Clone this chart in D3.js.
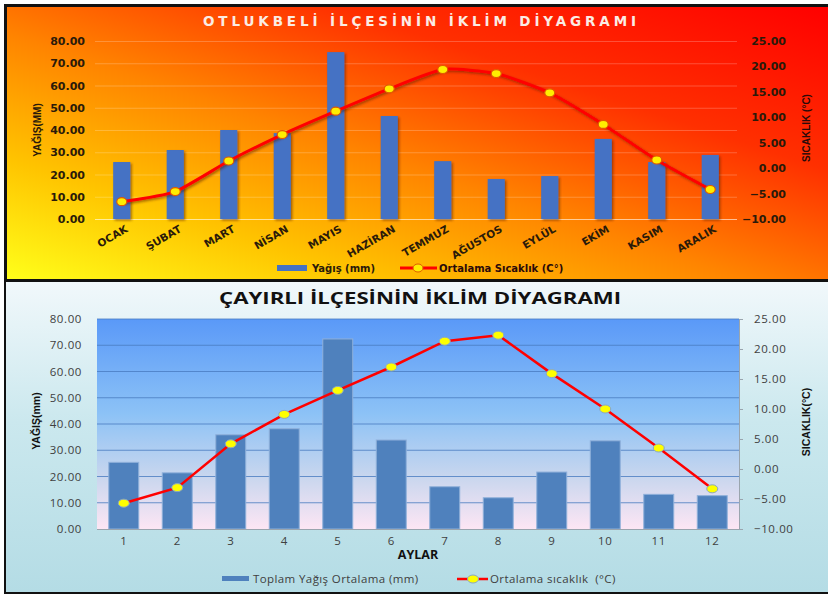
<!DOCTYPE html>
<html>
<head>
<meta charset="utf-8">
<script src="https://cdn.jsdelivr.net/npm/d3@7"></script>
<style>
body { margin: 0; background: #fff; }
svg { display: block; }
</style>
</head>
<body>
<div id="chart"></div>
<script>
// iki ilçe, iki diyagram

var aylarUst = ["OCAK", "ŞUBAT", "MART", "NİSAN", "MAYIS", "HAZİRAN", "TEMMUZ", "AĞUSTOS", "EYLÜL", "EKİM", "KASIM", "ARALIK"];
var yagisUst = [25.6, 31.0, 40.0, 38.6, 75.0, 46.3, 26.0, 18.0, 19.3, 36.0, 25.6, 28.8];
var sicaklikUst = [-6.6, -4.6, 1.4, 6.6, 11.2, 15.6, 19.4, 18.6, 14.8, 8.6, 1.6, -4.2];

var aylarAlt = ["1", "2", "3", "4", "5", "6", "7", "8", "9", "10", "11", "12"];
var yagisAlt = [25.4, 21.4, 35.9, 38.2, 72.4, 33.9, 16.1, 11.9, 21.7, 33.6, 13.2, 12.7];
var sicaklikAlt = [-5.7, -3.1, 4.2, 9.1, 13.1, 17.0, 21.3, 22.3, 15.9, 10.0, 3.5, -3.3];

var yagisTicks = [0, 10, 20, 30, 40, 50, 60, 70, 80];
var sicaklikTicks = [-10, -5, 0, 5, 10, 15, 20, 25];

var width = 828,
    height = 594;

var svg = d3.select("#chart")
    .append("svg")
    .attr("width", width)
    .attr("height", height);

var defs = svg.append("defs");

var g1 = defs.append("linearGradient").attr("id", "ates")
    .attr("x1", "0").attr("y1", "1").attr("x2", "1").attr("y2", "0");
g1.append("stop").attr("offset", "0").attr("stop-color", "#ffff1a");
g1.append("stop").attr("offset", "0.22").attr("stop-color", "#ffc400");
g1.append("stop").attr("offset", "0.45").attr("stop-color", "#ff8400");
g1.append("stop").attr("offset", "0.7").attr("stop-color", "#ff3000");
g1.append("stop").attr("offset", "1").attr("stop-color", "#ff0000");

var g2 = defs.append("linearGradient").attr("id", "zemin")
    .attr("x1", "0").attr("y1", "0").attr("x2", "0").attr("y2", "1");
g2.append("stop").attr("offset", "0").attr("stop-color", "#f1f8fb");
g2.append("stop").attr("offset", "0.45").attr("stop-color", "#cbe8ee");
g2.append("stop").attr("offset", "1").attr("stop-color", "#b4dce5");

var g3 = defs.append("linearGradient").attr("id", "alan")
    .attr("x1", "0").attr("y1", "0").attr("x2", "0").attr("y2", "1");
g3.append("stop").attr("offset", "0").attr("stop-color", "#5a99f8");
g3.append("stop").attr("offset", "0.45").attr("stop-color", "#8cc2f6");
g3.append("stop").attr("offset", "0.75").attr("stop-color", "#c8d6ee");
g3.append("stop").attr("offset", "1").attr("stop-color", "#fde6f4");

var shadow = defs.append("filter").attr("id", "golge")
    .attr("x", "-20%").attr("y", "-20%").attr("width", "140%").attr("height", "140%");
shadow.append("feDropShadow").attr("dx", 1.5).attr("dy", 1.5)
    .attr("stdDeviation", 1.2).attr("flood-color", "#5a2000").attr("flood-opacity", 0.55);

// çerçeveler
svg.append("rect").attr("x", 4).attr("y", 4).attr("width", 824).attr("height", 590).attr("fill", "#111");
svg.append("rect").attr("x", 7).attr("y", 7).attr("width", 821).attr("height", 272).attr("fill", "url(#ates)");
svg.append("rect").attr("x", 6).attr("y", 282).attr("width", 822).attr("height", 310).attr("fill", "url(#zemin)");

// ---------- üst diyagram ----------
var x1 = d3.scaleBand().domain(aylarUst).range([95, 737]).paddingInner(0.68).paddingOuter(0.34);
var yL1 = d3.scaleLinear().domain([0, 80]).range([219, 41]);
var yR1 = d3.scaleLinear().domain([-10, 25]).range([219, 41]);

var ust = svg.append("g");

ust.append("g").selectAll("line").data(yagisTicks).join("line")
    .attr("x1", 95).attr("x2", 737)
    .attr("y1", function(d) { return yL1(d) + 0.5; })
    .attr("y2", function(d) { return yL1(d) + 0.5; })
    .attr("stroke", "#fff")
    .attr("stroke-opacity", function(d) { return d == 0 ? 0.6 : 0.22; });

ust.append("g").selectAll("rect").data(yagisUst).join("rect")
    .attr("x", function(d, i) { return x1(aylarUst[i]); })
    .attr("y", function(d) { return yL1(d); })
    .attr("width", x1.bandwidth())
    .attr("height", function(d) { return yL1(0) - yL1(d); })
    .attr("fill", "#4472c4")
    .attr("filter", "url(#golge)");

var line1 = d3.line()
    .x(function(d, i) { return x1(aylarUst[i]) + x1.bandwidth() / 2; })
    .y(function(d) { return yR1(d); })
    .curve(d3.curveCardinal.tension(0.45));

ust.append("path")
    .attr("d", line1(sicaklikUst))
    .attr("fill", "none")
    .attr("stroke", "#ff0000")
    .attr("stroke-width", 3)
    .attr("filter", "url(#golge)");

ust.append("g").selectAll("ellipse").data(sicaklikUst).join("ellipse")
    .attr("cx", function(d, i) { return x1(aylarUst[i]) + x1.bandwidth() / 2; })
    .attr("cy", function(d) { return yR1(d); })
    .attr("rx", 5).attr("ry", 4)
    .attr("fill", "#ffee00")
    .attr("stroke", "#e05a00")
    .attr("stroke-width", 1.2);

var axL1 = ust.append("g").attr("transform", "translate(95,0)")
    .call(d3.axisLeft(yL1).tickValues(yagisTicks).tickFormat(d3.format(".2f")).tickSize(0).tickPadding(10));
var axR1 = ust.append("g").attr("transform", "translate(737,0)")
    .call(d3.axisRight(yR1).tickValues(sicaklikTicks).tickFormat(d3.format(".2f")).tickSize(0));
axR1.selectAll("text").attr("text-anchor", "end").attr("x", 49);
var axB1 = ust.append("g").attr("transform", "translate(0,219)")
    .call(d3.axisBottom(x1).tickSize(0));
axB1.selectAll("text")
    .attr("text-anchor", "end")
    .attr("transform", "translate(5,9) rotate(-30)")
    .attr("dy", "0.35em")
    .attr("y", 0);

[axL1, axR1, axB1].forEach(function(a) {
    a.select(".domain").remove();
    a.selectAll("text")
        .attr("fill", "#2a1a0a")
        .attr("font-family", "DejaVu Sans")
        .attr("font-weight", "bold")
        .attr("font-size", 11);
});
axB1.selectAll("text").attr("font-size", 10.5);

ust.append("text")
    .attr("x", 203).attr("y", 26)
    .attr("textLength", 433).attr("lengthAdjust", "spacing")
    .attr("font-family", "DejaVu Sans").attr("font-weight", "bold")
    .attr("font-size", 13.5)
    .attr("fill", "#fbece4")
    .text("OTLUKBELİ İLÇESİNİN İKLİM DİYAGRAMI");

ust.append("text")
    .attr("transform", "translate(41,130) rotate(-90)")
    .attr("text-anchor", "middle")
    .attr("font-family", "Liberation Sans Narrow, Liberation Sans").attr("font-weight", "bold")
    .attr("font-size", 10).attr("fill", "#2a1a0a")
    .text("YAĞIŞ(MM)");

ust.append("text")
    .attr("transform", "translate(810,128) rotate(-90)")
    .attr("text-anchor", "middle")
    .attr("font-family", "Liberation Sans Narrow, Liberation Sans").attr("font-weight", "bold")
    .attr("font-size", 10).attr("fill", "#2a0a0a")
    .text("SICAKLIK (°C)");

// lejant
ust.append("rect").attr("x", 277).attr("y", 265).attr("width", 30).attr("height", 6).attr("fill", "#4472c4");
ust.append("text").attr("x", 312).attr("y", 272)
    .attr("font-family", "DejaVu Sans").attr("font-weight", "bold").attr("font-size", 10)
    .attr("fill", "#2a1a0a").text("Yağış (mm)");
ust.append("line").attr("x1", 400).attr("x2", 437).attr("y1", 268).attr("y2", 268)
    .attr("stroke", "#ff0000").attr("stroke-width", 3);
ust.append("ellipse").attr("cx", 418).attr("cy", 268).attr("rx", 5).attr("ry", 4)
    .attr("fill", "#ffee00").attr("stroke", "#e05a00");
ust.append("text").attr("x", 439).attr("y", 272)
    .attr("font-family", "DejaVu Sans").attr("font-weight", "bold").attr("font-size", 10)
    .attr("fill", "#2a0a0a").text("Ortalama Sıcaklık (C°)");

// ---------- alt diyagram ----------
var x2 = d3.scaleBand().domain(aylarAlt).range([97, 739]).paddingInner(0.44).paddingOuter(0.22);
var yL2 = d3.scaleLinear().domain([0, 80]).range([529, 319]);
var yR2 = d3.scaleLinear().domain([-10, 25]).range([529, 319]);

var alt = svg.append("g");

alt.append("rect").attr("x", 97).attr("y", 319).attr("width", 642).attr("height", 210)
    .attr("fill", "url(#alan)");

alt.append("g").selectAll("line").data(yagisTicks.slice(1)).join("line")
    .attr("x1", 97).attr("x2", 739)
    .attr("y1", function(d) { return yL2(d); })
    .attr("y2", function(d) { return yL2(d); })
    .attr("stroke", "#4a7cc0").attr("stroke-width", 1.2).attr("stroke-opacity", 0.8);

alt.append("g").selectAll("rect").data(yagisAlt).join("rect")
    .attr("x", function(d, i) { return x2(aylarAlt[i]); })
    .attr("y", function(d) { return yL2(d); })
    .attr("width", x2.bandwidth())
    .attr("height", function(d) { return yL2(0) - yL2(d); })
    .attr("fill", "#4f81bd")
    .attr("stroke", "#8fb0da").attr("stroke-width", 1);

var line2 = d3.line()
    .x(function(d, i) { return x2(aylarAlt[i]) + x2.bandwidth() / 2; })
    .y(function(d) { return yR2(d); });

alt.append("path")
    .attr("d", line2(sicaklikAlt))
    .attr("fill", "none")
    .attr("stroke", "#ff0000")
    .attr("stroke-width", 2.5);

alt.append("g").selectAll("ellipse").data(sicaklikAlt).join("ellipse")
    .attr("cx", function(d, i) { return x2(aylarAlt[i]) + x2.bandwidth() / 2; })
    .attr("cy", function(d) { return yR2(d); })
    .attr("rx", 5.5).attr("ry", 4)
    .attr("fill", "#ffff00")
    .attr("stroke", "#8aa6c4").attr("stroke-width", 1);

var axL2 = alt.append("g").attr("transform", "translate(97,0)")
    .call(d3.axisLeft(yL2).tickValues(yagisTicks).tickFormat(d3.format(".2f")).tickSize(0).tickPadding(15));
axL2.select(".domain").remove();
var axR2 = alt.append("g").attr("transform", "translate(739,0)")
    .call(d3.axisRight(yR2).tickValues(sicaklikTicks).tickFormat(d3.format(".2f")).tickSize(4).tickSizeOuter(0).tickPadding(11));
var axB2 = alt.append("g").attr("transform", "translate(0,529)")
    .call(d3.axisBottom(x2).tickSize(0).tickPadding(8));
axB2.select(".domain").attr("d", "M97,0.5H739").attr("stroke", "#9aa5ae");
axR2.selectAll(".domain, line").attr("stroke", "#9aa5ae");

[axL2, axR2, axB2].forEach(function(a) {
    a.selectAll("text")
        .attr("fill", "#404040")
        .attr("font-family", "Open Sans")
        .attr("font-size", 11.5)
        .attr("letter-spacing", 0.6);
});

alt.append("text")
    .attr("x", 219).attr("y", 304)
    .attr("textLength", 402).attr("lengthAdjust", "spacingAndGlyphs")
    .attr("font-family", "Open Sans").attr("font-weight", "bold")
    .attr("font-size", 16.5).attr("fill", "#111")
    .text("ÇAYIRLI İLÇESİNİN İKLİM DİYAGRAMI");

alt.append("text")
    .attr("x", 418).attr("y", 559)
    .attr("text-anchor", "middle")
    .attr("font-family", "Open Sans").attr("font-weight", "bold")
    .attr("font-size", 12.5).attr("fill", "#111")
    .text("AYLAR");

alt.append("text")
    .attr("transform", "translate(40,421) rotate(-90)")
    .attr("text-anchor", "middle")
    .attr("font-family", "Liberation Sans Narrow, Liberation Sans").attr("font-weight", "bold")
    .attr("font-size", 10.5).attr("fill", "#111")
    .text("YAĞIŞ(mm)");

alt.append("text")
    .attr("transform", "translate(810,422) rotate(-90)")
    .attr("text-anchor", "middle")
    .attr("font-family", "Liberation Sans Narrow, Liberation Sans").attr("font-weight", "bold")
    .attr("font-size", 10.5).attr("fill", "#111")
    .text("SICAKLIK(°C)");

alt.append("rect").attr("x", 222).attr("y", 576).attr("width", 27).attr("height", 5).attr("fill", "#4f81bd");
alt.append("text").attr("x", 253).attr("y", 583)
    .attr("font-family", "Open Sans").attr("font-size", 11.5).attr("letter-spacing", 0.4)
    .attr("fill", "#404040").text("Toplam Yağış Ortalama (mm)");
alt.append("line").attr("x1", 457).attr("x2", 488).attr("y1", 579).attr("y2", 579)
    .attr("stroke", "#ff0000").attr("stroke-width", 2.5);
alt.append("ellipse").attr("cx", 473).attr("cy", 579).attr("rx", 5.5).attr("ry", 4)
    .attr("fill", "#ffff00").attr("stroke", "#8aa6c4");
alt.append("text").attr("x", 490).attr("y", 583)
    .attr("font-family", "Open Sans").attr("font-size", 11.5).attr("letter-spacing", 0.4)
    .attr("fill", "#404040").attr("xml:space", "preserve").text("Ortalama sıcaklık  (°C)");
</script>
</body>
</html>
